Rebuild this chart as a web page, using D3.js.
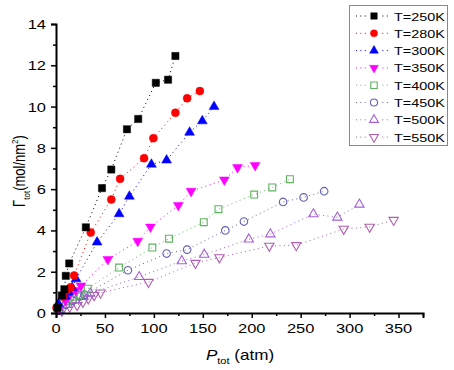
<!DOCTYPE html>
<html>
<head>
<meta charset="utf-8">
<script src="https://cdn.jsdelivr.net/npm/d3@7"></script>
<style>
  body { margin: 0; background: #fff; }
  svg text { font-family: "Liberation Sans", Arial, sans-serif; fill: #000; }
</style>
</head>
<body>
<div id="chart"></div>
<script>
// series names, colours and values: [P_tot (atm), Gamma_tot (mol/nm2)]
var seriesNames = ["T=250K", "T=280K", "T=300K", "T=350K", "T=400K", "T=450K", "T=500K", "T=550K"];
var seriesColors = ["#000000", "#ff0000", "#0000ff", "#ff00ff", "#5fb35f", "#6464b4", "#a55fd8", "#b05fb0"];
var seriesShapes = ["square", "circle", "triangle", "triangleDown", "square", "circle", "triangle", "triangleDown"];
var seriesFilled = [true, true, true, true, false, false, false, false];

var data250 = [[1.5,0.25],[6,0.85],[8.5,1.15],[10,1.8],[13.5,2.4],[30.5,4.15],[47,6.05],[56.5,6.95],[72.5,8.9],[84,9.4],[102,11.15],[114.5,11.3],[122,12.45]];
var data280 = [[0.5,0.25],[7,0.8],[11,1.1],[15,1.25],[18.5,1.82],[35.5,3.9],[56.5,5.5],[65.5,6.5],[90,7.5],[99.5,8.47],[122,9.7],[134,10.4],[147,10.75]];
var data300 = [[2.5,0.45],[9.5,0.8],[13,1.0],[16.5,1.23],[20.5,1.65],[42,3.43],[64.5,4.8],[75,5.65],[97.5,7.2],[113,7.4],[136.5,8.75],[149.5,9.3],[161.5,10.0]];
var data350 = [[3,0.2],[9.5,0.6],[14.5,0.95],[20,1.1],[25.5,1.32],[53,2.6],[83.5,3.48],[96.5,4.17],[125,5.22],[138,5.9],[172,6.45],[185.5,7.05],[203.5,7.15]];
var data400 = [[2.5,0.3],[12,0.55],[18,0.78],[24,0.88],[32.5,1.18],[64.5,2.2],[98.5,3.17],[115.5,3.6],[151,4.4],[166,5.03],[202.5,5.74],[221,6.08],[239,6.48]];
var data450 = [[3,0.1],[10,0.4],[17,0.6],[24.5,0.8],[29,0.88],[73.5,2.07],[113,2.88],[134,3.07],[173,4.0],[192,4.43],[232,5.38],[253,5.6],[274,5.9]];
var data500 = [[4,0.15],[12,0.4],[20,0.6],[28,0.8],[35,0.95],[85,1.75],[128.5,2.52],[151.5,2.83],[197,3.57],[219,3.82],[263,4.79],[287.5,4.63],[310,5.26]];
var data550 = [[6,0.1],[14,0.3],[21.5,0.38],[27.5,0.53],[33,0.7],[39,0.86],[45.5,0.98],[94.5,1.5],[142.5,2.42],[167,2.69],[218,3.25],[245.5,3.28],[294,4.07],[320.5,4.17],[345,4.5]];
var allData = [data250, data280, data300, data350, data400, data450, data500, data550];

var xTicks = [0, 50, 100, 150, 200, 250, 300, 350];
var yTicks = [0, 2, 4, 6, 8, 10, 12, 14];

var width = 454, height = 370;
var margin = { top: 24, right: 31, bottom: 57, left: 56 };
var innerW = width - margin.left - margin.right;
var innerH = height - margin.top - margin.bottom;
var stretch = 1.22; // text in the picture is wider than plain Arial

var svg = d3.select("#chart").append("svg")
    .attr("width", width)
    .attr("height", height);

var g = svg.append("g")
    .attr("transform", "translate(" + margin.left + "," + margin.top + ")");

var x = d3.scaleLinear().domain([0, 375]).range([0, innerW]);
var y = d3.scaleLinear().domain([0, 14]).range([innerH, 0]);

function symbolFor(shape, size) {
    var type = { square: d3.symbolSquare, circle: d3.symbolCircle, triangle: d3.symbolTriangle, triangleDown: d3.symbolTriangle }[shape];
    return d3.symbol().type(type).size(size)();
}
var symbolSizes = { square: 52, circle: 50, triangle: 42, triangleDown: 42 };

function stretchedText(parent, tx, ty, str, size, anchor) {
    var t = parent.append("text")
        .attr("transform", "translate(" + tx + "," + ty + ") scale(" + stretch + ",1)")
        .style("font-size", size + "px")
        .attr("text-anchor", anchor || "start");
    if (str) t.text(str);
    return t;
}

// dotted lines
var line = d3.line()
    .x(function(d) { return x(d[0]); })
    .y(function(d) { return y(d[1]); });

allData.forEach(function(series, i) {
    g.append("path")
        .datum(series)
        .attr("d", line)
        .attr("fill", "none")
        .attr("stroke", seriesColors[i])
        .attr("stroke-width", 1)
        .attr("stroke-dasharray", "1,3.4");
});

// markers, last series first so the filled ones sit on top
for (var i = allData.length - 1; i >= 0; i--) {
    var shape = seriesShapes[i];
    g.selectAll(".m" + i)
        .data(allData[i])
        .enter().append("path")
        .attr("class", "m" + i)
        .attr("d", symbolFor(shape, symbolSizes[shape] * (seriesFilled[i] ? 1 : 0.9)))
        .attr("transform", function(d) {
            return "translate(" + x(d[0]) + "," + y(d[1]) + ")" + (shape === "triangleDown" ? " rotate(180)" : "");
        })
        .attr("fill", seriesFilled[i] ? seriesColors[i] : "none")
        .attr("stroke", seriesColors[i])
        .attr("stroke-width", seriesFilled[i] ? 0.5 : 1.1);
}

// axes with minor ticks
var xAxisG = g.append("g").attr("transform", "translate(0," + innerH + ")");
xAxisG.call(d3.axisBottom(x).tickValues(d3.range(0, 376, 25)).tickSize(5).tickFormat(""));
var yAxisG = g.append("g");
yAxisG.call(d3.axisLeft(y).tickValues(d3.range(0, 15, 1)).tickSize(5).tickFormat(""));

[xAxisG, yAxisG].forEach(function(ax) {
    ax.select(".domain").attr("stroke", "#000").attr("stroke-width", 2);
    ax.selectAll(".tick line").attr("stroke", "#000").attr("stroke-width", 1.5);
});
xAxisG.selectAll(".tick line").attr("y2", function(d) { return d % 50 === 0 ? 5 : 3; });
yAxisG.selectAll(".tick line").attr("x2", function(d) { return d % 2 === 0 ? -5 : -3; });

xTicks.forEach(function(v) {
    stretchedText(g, x(v), innerH + 20, String(v), 13.5, "middle");
});
yTicks.forEach(function(v) {
    stretchedText(g, -10, y(v) + 5, String(v), 13.5, "end");
});

// axis titles
var xt = stretchedText(svg, 240, 360, null, 14, "middle");
xt.append("tspan").style("font-style", "italic").text("P");
xt.append("tspan").attr("dy", 4).style("font-size", "9px").text("tot");
xt.append("tspan").attr("dy", -4).text(" (atm)");

// rotated title: the picture's horizontal stretch widens the glyph height here
var yt = svg.append("text")
    .attr("transform", "translate(25,171) rotate(-90) scale(1," + stretch + ")")
    .attr("text-anchor", "middle")
    .style("font-size", "13px");
yt.append("tspan").text("\u0393");
yt.append("tspan").attr("dy", 4).style("font-size", "8px").text("tot");
yt.append("tspan").attr("dy", -4).text("(mol/nm");
yt.append("tspan").attr("dy", -6).style("font-size", "8px").text("2");
yt.append("tspan").attr("dy", 6).text(")");

// legend
var legend = svg.append("g");
legend.append("rect")
    .attr("x", 349.5).attr("y", 5.5)
    .attr("width", 98).attr("height", 140)
    .attr("fill", "#fff")
    .attr("stroke", "#888")
    .attr("stroke-width", 1);

seriesNames.forEach(function(name, i) {
    var ly = 16 + i * 17.3;
    var shape = seriesShapes[i];
    legend.append("line")
        .attr("x1", 356).attr("x2", 391)
        .attr("y1", ly).attr("y2", ly)
        .attr("stroke", seriesColors[i])
        .attr("stroke-width", 1)
        .attr("stroke-dasharray", "1,3.4");
    legend.append("rect")
        .attr("x", 368).attr("y", ly - 6).attr("width", 12).attr("height", 12)
        .attr("fill", "#fff");
    legend.append("path")
        .attr("d", symbolFor(shape, symbolSizes[shape] * 0.8))
        .attr("transform", "translate(374," + ly + ")" + (shape === "triangleDown" ? " rotate(180)" : ""))
        .attr("fill", seriesFilled[i] ? seriesColors[i] : "none")
        .attr("stroke", seriesColors[i])
        .attr("stroke-width", seriesFilled[i] ? 0.5 : 1.1);
    stretchedText(legend, 394, ly + 4.5, name, 11.8, "start");
});
</script>
</body>
</html>
